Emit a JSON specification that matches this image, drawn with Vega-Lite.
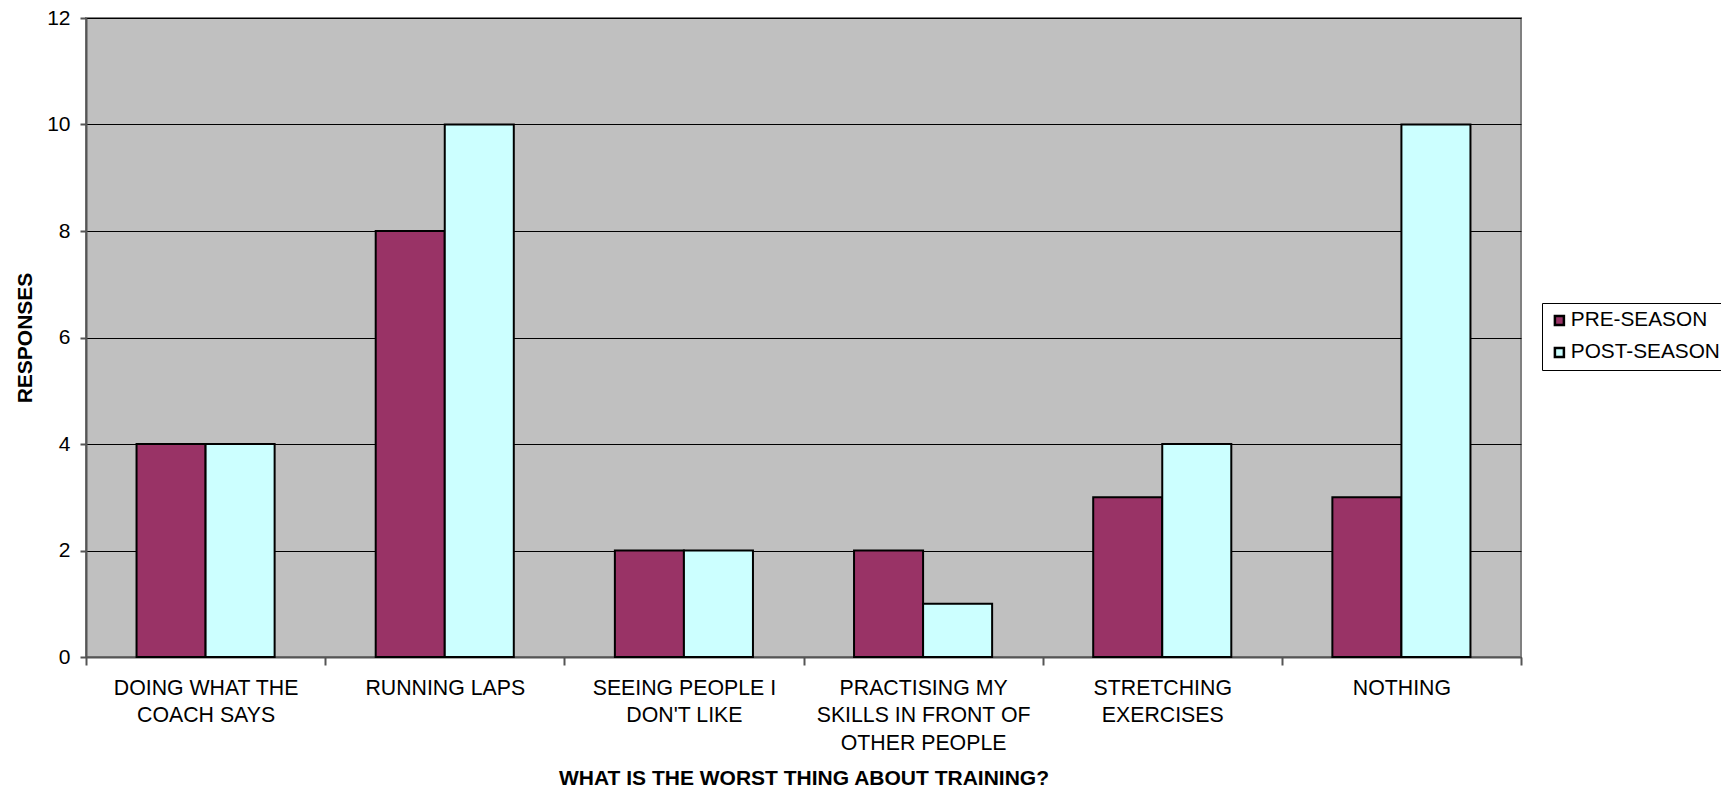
{
  "$schema": "https://vega.github.io/schema/vega-lite/v6.json",
  "autosize": {"type": "none"},
  "width": 1435,
  "height": 639,
  "padding": {"left": 86, "top": 18, "right": 200, "bottom": 132},
  "background": "white",
  "data": {
    "values": [
      {"item": "DOING WHAT THE|COACH SAYS", "season": "PRE-SEASON", "responses": 4},
      {"item": "DOING WHAT THE|COACH SAYS", "season": "POST-SEASON", "responses": 4},
      {"item": "RUNNING LAPS", "season": "PRE-SEASON", "responses": 8},
      {"item": "RUNNING LAPS", "season": "POST-SEASON", "responses": 10},
      {"item": "SEEING PEOPLE I|DON'T LIKE", "season": "PRE-SEASON", "responses": 2},
      {"item": "SEEING PEOPLE I|DON'T LIKE", "season": "POST-SEASON", "responses": 2},
      {"item": "PRACTISING MY|SKILLS IN FRONT OF|OTHER PEOPLE", "season": "PRE-SEASON", "responses": 2},
      {"item": "PRACTISING MY|SKILLS IN FRONT OF|OTHER PEOPLE", "season": "POST-SEASON", "responses": 1},
      {"item": "STRETCHING|EXERCISES", "season": "PRE-SEASON", "responses": 3},
      {"item": "STRETCHING|EXERCISES", "season": "POST-SEASON", "responses": 4},
      {"item": "NOTHING", "season": "PRE-SEASON", "responses": 3},
      {"item": "NOTHING", "season": "POST-SEASON", "responses": 10}
    ]
  },
  "config": {
    "font": "Liberation Sans",
    "view": {"fill": "#C0C0C0", "stroke": "#808080", "strokeWidth": 2}
  },
  "mark": {"type": "bar", "stroke": "black", "strokeWidth": 2},
  "encoding": {
    "x": {
      "field": "item",
      "type": "nominal",
      "sort": null,
      "scale": {"paddingInner": 0, "paddingOuter": 0},
      "axis": {
        "title": "WHAT IS THE WORST THING ABOUT TRAINING?",
        "titleFont": "Liberation Sans",
        "titleFontSize": 21,
        "titleFontWeight": "bold",
        "titleColor": "black",
        "titleY": 127,
        "titleBaseline": "alphabetic",
        "labelExpr": "isValid(datum.value) ? split(datum.value, '|') : ''",
        "labelAngle": 0,
        "labelFontSize": 21.3,
        "labelColor": "black",
        "labelLineHeight": 27.5,
        "labelPadding": 12,
        "labelLimit": 0,
        "tickBand": "extent",
        "tickSize": 8,
        "tickColor": "#555555",
        "tickWidth": 2,
        "domainColor": "#555555",
        "domainWidth": 2,
        "grid": false
      }
    },
    "xOffset": {
      "field": "season",
      "type": "nominal",
      "sort": ["PRE-SEASON", "POST-SEASON"],
      "scale": {"paddingInner": 0, "paddingOuter": 0.732}
    },
    "y": {
      "field": "responses",
      "type": "quantitative",
      "scale": {"domain": [0, 12], "nice": false},
      "axis": {
        "title": "RESPONSES",
        "titleFont": "Liberation Sans",
        "titleFontSize": 21,
        "titleFontWeight": "bold",
        "titleColor": "black",
        "titleX": -55,
        "titleBaseline": "alphabetic",
        "values": [0, 2, 4, 6, 8, 10, 12],
        "labelFontSize": 21,
        "labelColor": "black",
        "labelPadding": 10,
        "tickSize": 6,
        "tickColor": "#555555",
        "tickWidth": 2,
        "domainColor": "#555555",
        "domainWidth": 2,
        "grid": true,
        "gridColor": "black",
        "gridWidth": 1,
        "gridOpacity": 1
      }
    },
    "color": {
      "field": "season",
      "type": "nominal",
      "sort": ["PRE-SEASON", "POST-SEASON"],
      "scale": {"domain": ["PRE-SEASON", "POST-SEASON"], "range": ["#993366", "#CCFFFF"]},
      "legend": {
        "title": null,
        "orient": "none",
        "legendX": 1456,
        "legendY": 285,
        "fillColor": "white",
        "strokeColor": "black",
        "padding": 7,
        "symbolType": "square",
        "symbolSize": 81,
        "symbolStrokeColor": "black",
        "symbolStrokeWidth": 2.5,
        "labelFontSize": 20.8,
        "labelColor": "black",
        "labelOffset": 1,
        "rowPadding": 10,
        "labelLimit": 0
      }
    }
  }
}
